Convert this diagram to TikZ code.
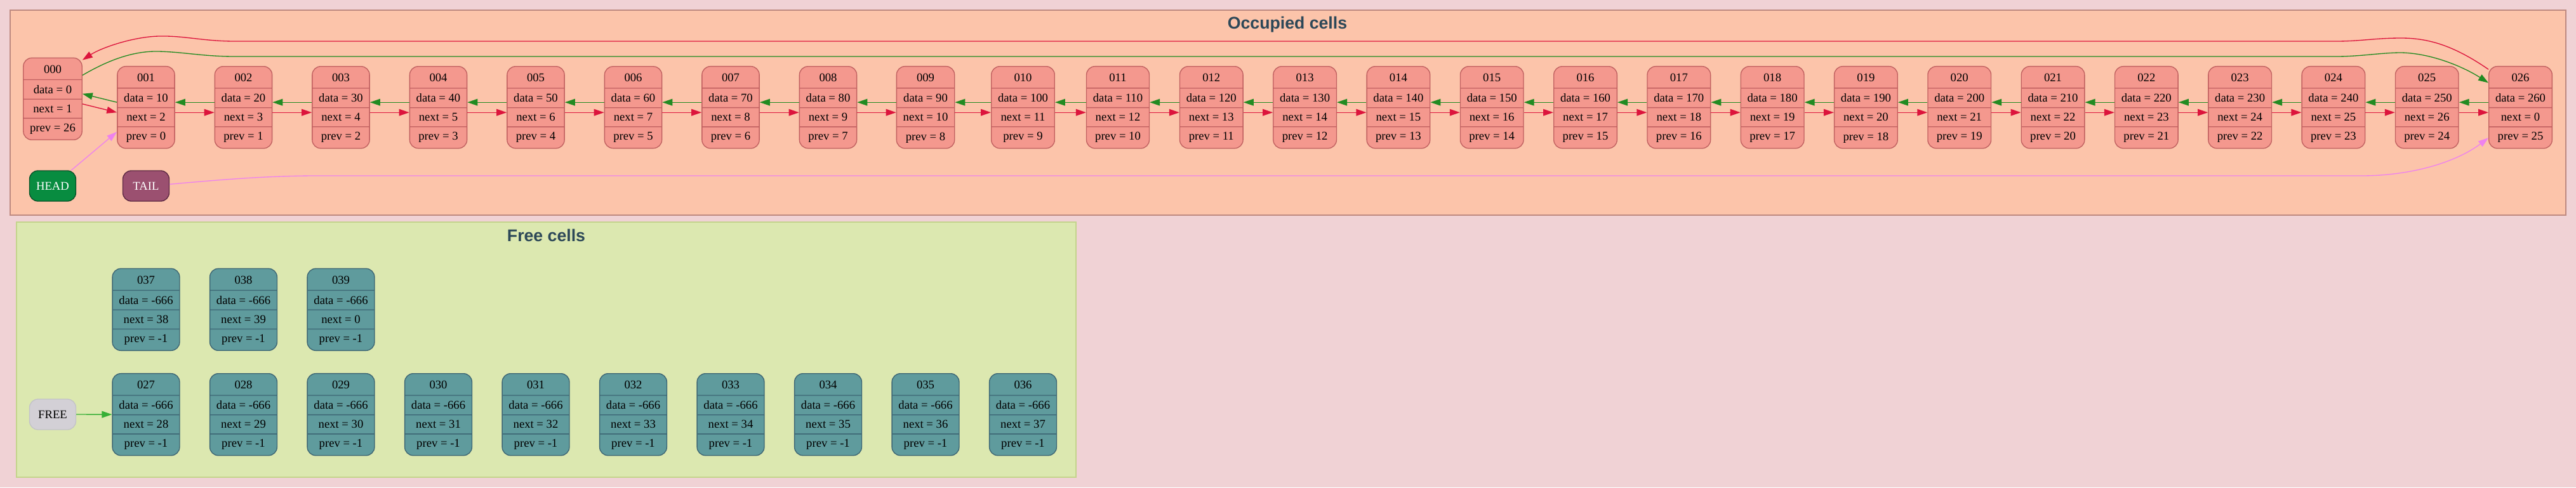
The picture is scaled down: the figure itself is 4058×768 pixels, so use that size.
\documentclass[tikz,border=0pt]{standalone}
\usepackage{fontspec}
\setmainfont{Liberation Serif}
\newfontfamily\clusterfont{Liberation Sans}
\usepackage{tikz}
\usetikzlibrary{arrows.meta, shapes.multipart}
\usepackage{xcolor}

\definecolor{bgpink}{RGB}{240,210,213}
\definecolor{occfill}{RGB}{252,196,170}
\definecolor{occline}{RGB}{190,138,128}
\definecolor{freefill}{RGB}{220,232,176}
\definecolor{freeline}{RGB}{196,212,140}
\definecolor{cellfill}{RGB}{244,152,142}
\definecolor{cellline}{RGB}{192,96,96}
\definecolor{freecellfill}{RGB}{95,155,157}
\definecolor{freecellline}{RGB}{60,100,115}
\definecolor{headfill}{RGB}{8,140,64}
\definecolor{headline}{RGB}{10,80,40}
\definecolor{tailfill}{RGB}{155,80,112}
\definecolor{tailline}{RGB}{90,40,65}
\definecolor{listfill}{RGB}{211,208,214}
\definecolor{listline}{RGB}{195,195,200}
\definecolor{titlecol}{RGB}{45,72,88}
\definecolor{nextred}{RGB}{220,20,60}
\definecolor{prevgreen}{RGB}{34,139,34}
\definecolor{headviolet}{RGB}{238,130,238}
\definecolor{freegreen}{RGB}{55,175,55}

\begin{document}
\begin{tikzpicture}[
    x=0.75pt, y=-0.75pt,
    occupied cell/.style={rectangle split, rectangle split parts=4, draw=cellline, fill=cellfill,
        line width=1pt, rounded corners=10pt, inner xsep=7.75pt, inner ysep=6.1pt,
        text height=11.5pt, text depth=1pt, font=\fontsize{14pt}{16pt}\selectfont},
    free cell/.style={occupied cell, draw=freecellline, fill=freecellfill},
    pointer/.style={draw, rounded corners=10pt, minimum width=54.75pt, minimum height=36pt,
        line width=1pt, font=\fontsize{14pt}{16pt}\selectfont},
    cluster title/.style={anchor=base, text=titlecol, font=\clusterfont\bfseries\fontsize{20pt}{24pt}\selectfont},
    link/.style={line width=1pt, -{Triangle[length=12pt, width=8pt]}},
    next link/.style={link, draw=nextred},
    prev link/.style={link, draw=prevgreen}
]
    \useasboundingbox (0,0) rectangle (4058,768);
    \fill[bgpink] (0,0) rectangle (4058,768);

    % clusters
    \draw[fill=occfill, draw=occline, line width=1.5pt] (15.7,15.7) rectangle (4041.7,339);
    \draw[fill=freefill, draw=freeline, line width=1.5pt] (26,350) rectangle (1695,751.7);
    \node[cluster title] (occtitle) at (2028,45.7) {Occupied cells};
    \node[cluster title] (freetitle) at (860.5,380) {Free cells};

    % occupied cells
    \node[occupied cell] (c000) at (83,155.8) {000\nodepart{two}data = 0\nodepart{three}next = 1\nodepart{four}prev = 26};
    \node[occupied cell] (c001) at (230,169.2) {001\nodepart{two}data = 10\nodepart{three}next = 2\nodepart{four}prev = 0};
    \node[occupied cell] (c002) at (383.5,169.2) {002\nodepart{two}data = 20\nodepart{three}next = 3\nodepart{four}prev = 1};
    \node[occupied cell] (c003) at (537,169.2) {003\nodepart{two}data = 30\nodepart{three}next = 4\nodepart{four}prev = 2};
    \node[occupied cell] (c004) at (690.5,169.2) {004\nodepart{two}data = 40\nodepart{three}next = 5\nodepart{four}prev = 3};
    \node[occupied cell] (c005) at (844,169.2) {005\nodepart{two}data = 50\nodepart{three}next = 6\nodepart{four}prev = 4};
    \node[occupied cell] (c006) at (997.5,169.2) {006\nodepart{two}data = 60\nodepart{three}next = 7\nodepart{four}prev = 5};
    \node[occupied cell] (c007) at (1151,169.2) {007\nodepart{two}data = 70\nodepart{three}next = 8\nodepart{four}prev = 6};
    \node[occupied cell] (c008) at (1304.5,169.2) {008\nodepart{two}data = 80\nodepart{three}next = 9\nodepart{four}prev = 7};
    \node[occupied cell] (c009) at (1458,169.2) {009\nodepart{two}data = 90\nodepart{three}next = 10\nodepart{four}prev = 8};
    \node[occupied cell] (c010) at (1611.5,169.2) {010\nodepart{two}data = 100\nodepart{three}next = 11\nodepart{four}prev = 9};
    \node[occupied cell] (c011) at (1761,169.2) {011\nodepart{two}data = 110\nodepart{three}next = 12\nodepart{four}prev = 10};
    \node[occupied cell] (c012) at (1908.3,169.2) {012\nodepart{two}data = 120\nodepart{three}next = 13\nodepart{four}prev = 11};
    \node[occupied cell] (c013) at (2055.6,169.2) {013\nodepart{two}data = 130\nodepart{three}next = 14\nodepart{four}prev = 12};
    \node[occupied cell] (c014) at (2202.9,169.2) {014\nodepart{two}data = 140\nodepart{three}next = 15\nodepart{four}prev = 13};
    \node[occupied cell] (c015) at (2350.2,169.2) {015\nodepart{two}data = 150\nodepart{three}next = 16\nodepart{four}prev = 14};
    \node[occupied cell] (c016) at (2497.5,169.2) {016\nodepart{two}data = 160\nodepart{three}next = 17\nodepart{four}prev = 15};
    \node[occupied cell] (c017) at (2644.8,169.2) {017\nodepart{two}data = 170\nodepart{three}next = 18\nodepart{four}prev = 16};
    \node[occupied cell] (c018) at (2792.1,169.2) {018\nodepart{two}data = 180\nodepart{three}next = 19\nodepart{four}prev = 17};
    \node[occupied cell] (c019) at (2939.4,169.2) {019\nodepart{two}data = 190\nodepart{three}next = 20\nodepart{four}prev = 18};
    \node[occupied cell] (c020) at (3086.7,169.2) {020\nodepart{two}data = 200\nodepart{three}next = 21\nodepart{four}prev = 19};
    \node[occupied cell] (c021) at (3234,169.2) {021\nodepart{two}data = 210\nodepart{three}next = 22\nodepart{four}prev = 20};
    \node[occupied cell] (c022) at (3381.3,169.2) {022\nodepart{two}data = 220\nodepart{three}next = 23\nodepart{four}prev = 21};
    \node[occupied cell] (c023) at (3528.6,169.2) {023\nodepart{two}data = 230\nodepart{three}next = 24\nodepart{four}prev = 22};
    \node[occupied cell] (c024) at (3675.9,169.2) {024\nodepart{two}data = 240\nodepart{three}next = 25\nodepart{four}prev = 23};
    \node[occupied cell] (c025) at (3823.2,169.2) {025\nodepart{two}data = 250\nodepart{three}next = 26\nodepart{four}prev = 24};
    \node[occupied cell] (c026) at (3970.5,169.2) {026\nodepart{two}data = 260\nodepart{three}next = 0\nodepart{four}prev = 25};

    \node[pointer, draw=headline, fill=headfill, text=white] (head) at (83,293) {HEAD};
    \node[pointer, draw=tailline, fill=tailfill, text=white] (tail) at (230,293) {TAIL};

    % free cells
    \node[free cell] (c037) at (230,487.8) {037\nodepart{two}data = -666\nodepart{three}next = 38\nodepart{four}prev = -1};
    \node[free cell] (c038) at (383.5,487.8) {038\nodepart{two}data = -666\nodepart{three}next = 39\nodepart{four}prev = -1};
    \node[free cell] (c039) at (537,487.8) {039\nodepart{two}data = -666\nodepart{three}next = 0\nodepart{four}prev = -1};
    \node[free cell] (c027) at (230,653.2) {027\nodepart{two}data = -666\nodepart{three}next = 28\nodepart{four}prev = -1};
    \node[free cell] (c028) at (383.5,653.2) {028\nodepart{two}data = -666\nodepart{three}next = 29\nodepart{four}prev = -1};
    \node[free cell] (c029) at (537,653.2) {029\nodepart{two}data = -666\nodepart{three}next = 30\nodepart{four}prev = -1};
    \node[free cell] (c030) at (690.5,653.2) {030\nodepart{two}data = -666\nodepart{three}next = 31\nodepart{four}prev = -1};
    \node[free cell] (c031) at (844,653.2) {031\nodepart{two}data = -666\nodepart{three}next = 32\nodepart{four}prev = -1};
    \node[free cell] (c032) at (997.5,653.2) {032\nodepart{two}data = -666\nodepart{three}next = 33\nodepart{four}prev = -1};
    \node[free cell] (c033) at (1151,653.2) {033\nodepart{two}data = -666\nodepart{three}next = 34\nodepart{four}prev = -1};
    \node[free cell] (c034) at (1304.5,653.2) {034\nodepart{two}data = -666\nodepart{three}next = 35\nodepart{four}prev = -1};
    \node[free cell] (c035) at (1458,653.2) {035\nodepart{two}data = -666\nodepart{three}next = 36\nodepart{four}prev = -1};
    \node[free cell] (c036) at (1611.5,653.2) {036\nodepart{two}data = -666\nodepart{three}next = 37\nodepart{four}prev = -1};

    \node[pointer, draw=listline, fill=listfill] (free) at (83,653) {FREE};

    % next / prev links
    \draw[next link] ([yshift=-6pt]c000.east) -- ([yshift=-6pt]c001.west);
    \draw[prev link] ([yshift=6pt]c001.west) -- ([yshift=6pt]c000.east);
    \draw[next link] ([yshift=-6pt]c001.east) -- ([yshift=-6pt]c002.west);
    \draw[prev link] ([yshift=6pt]c002.west) -- ([yshift=6pt]c001.east);
    \draw[next link] ([yshift=-6pt]c002.east) -- ([yshift=-6pt]c003.west);
    \draw[prev link] ([yshift=6pt]c003.west) -- ([yshift=6pt]c002.east);
    \draw[next link] ([yshift=-6pt]c003.east) -- ([yshift=-6pt]c004.west);
    \draw[prev link] ([yshift=6pt]c004.west) -- ([yshift=6pt]c003.east);
    \draw[next link] ([yshift=-6pt]c004.east) -- ([yshift=-6pt]c005.west);
    \draw[prev link] ([yshift=6pt]c005.west) -- ([yshift=6pt]c004.east);
    \draw[next link] ([yshift=-6pt]c005.east) -- ([yshift=-6pt]c006.west);
    \draw[prev link] ([yshift=6pt]c006.west) -- ([yshift=6pt]c005.east);
    \draw[next link] ([yshift=-6pt]c006.east) -- ([yshift=-6pt]c007.west);
    \draw[prev link] ([yshift=6pt]c007.west) -- ([yshift=6pt]c006.east);
    \draw[next link] ([yshift=-6pt]c007.east) -- ([yshift=-6pt]c008.west);
    \draw[prev link] ([yshift=6pt]c008.west) -- ([yshift=6pt]c007.east);
    \draw[next link] ([yshift=-6pt]c008.east) -- ([yshift=-6pt]c009.west);
    \draw[prev link] ([yshift=6pt]c009.west) -- ([yshift=6pt]c008.east);
    \draw[next link] ([yshift=-6pt]c009.east) -- ([yshift=-6pt]c010.west);
    \draw[prev link] ([yshift=6pt]c010.west) -- ([yshift=6pt]c009.east);
    \draw[next link] ([yshift=-6pt]c010.east) -- ([yshift=-6pt]c011.west);
    \draw[prev link] ([yshift=6pt]c011.west) -- ([yshift=6pt]c010.east);
    \draw[next link] ([yshift=-6pt]c011.east) -- ([yshift=-6pt]c012.west);
    \draw[prev link] ([yshift=6pt]c012.west) -- ([yshift=6pt]c011.east);
    \draw[next link] ([yshift=-6pt]c012.east) -- ([yshift=-6pt]c013.west);
    \draw[prev link] ([yshift=6pt]c013.west) -- ([yshift=6pt]c012.east);
    \draw[next link] ([yshift=-6pt]c013.east) -- ([yshift=-6pt]c014.west);
    \draw[prev link] ([yshift=6pt]c014.west) -- ([yshift=6pt]c013.east);
    \draw[next link] ([yshift=-6pt]c014.east) -- ([yshift=-6pt]c015.west);
    \draw[prev link] ([yshift=6pt]c015.west) -- ([yshift=6pt]c014.east);
    \draw[next link] ([yshift=-6pt]c015.east) -- ([yshift=-6pt]c016.west);
    \draw[prev link] ([yshift=6pt]c016.west) -- ([yshift=6pt]c015.east);
    \draw[next link] ([yshift=-6pt]c016.east) -- ([yshift=-6pt]c017.west);
    \draw[prev link] ([yshift=6pt]c017.west) -- ([yshift=6pt]c016.east);
    \draw[next link] ([yshift=-6pt]c017.east) -- ([yshift=-6pt]c018.west);
    \draw[prev link] ([yshift=6pt]c018.west) -- ([yshift=6pt]c017.east);
    \draw[next link] ([yshift=-6pt]c018.east) -- ([yshift=-6pt]c019.west);
    \draw[prev link] ([yshift=6pt]c019.west) -- ([yshift=6pt]c018.east);
    \draw[next link] ([yshift=-6pt]c019.east) -- ([yshift=-6pt]c020.west);
    \draw[prev link] ([yshift=6pt]c020.west) -- ([yshift=6pt]c019.east);
    \draw[next link] ([yshift=-6pt]c020.east) -- ([yshift=-6pt]c021.west);
    \draw[prev link] ([yshift=6pt]c021.west) -- ([yshift=6pt]c020.east);
    \draw[next link] ([yshift=-6pt]c021.east) -- ([yshift=-6pt]c022.west);
    \draw[prev link] ([yshift=6pt]c022.west) -- ([yshift=6pt]c021.east);
    \draw[next link] ([yshift=-6pt]c022.east) -- ([yshift=-6pt]c023.west);
    \draw[prev link] ([yshift=6pt]c023.west) -- ([yshift=6pt]c022.east);
    \draw[next link] ([yshift=-6pt]c023.east) -- ([yshift=-6pt]c024.west);
    \draw[prev link] ([yshift=6pt]c024.west) -- ([yshift=6pt]c023.east);
    \draw[next link] ([yshift=-6pt]c024.east) -- ([yshift=-6pt]c025.west);
    \draw[prev link] ([yshift=6pt]c025.west) -- ([yshift=6pt]c024.east);
    \draw[next link] ([yshift=-6pt]c025.east) -- ([yshift=-6pt]c026.west);
    \draw[prev link] ([yshift=6pt]c026.west) -- ([yshift=6pt]c025.east);

    % wrap-around links
    \draw[next link] ([yshift=-4pt]c026.north west) .. controls (3870,75) and (3830,60) .. (3783,60)
        .. controls (3740,60) and (3720,65) .. (3680,65) -- (370,65)
        .. controls (320,65) and (290,56) .. (250,57)
        .. controls (210,58) and (160,75) .. ([yshift=-3pt]c000.north east);
    \draw[prev link] ([yshift=-21pt]c000.north east) .. controls (170,95) and (210,80) .. (250,81)
        .. controls (290,82) and (320,89) .. (370,89) -- (3680,89)
        .. controls (3720,89) and (3750,83) .. (3783,83)
        .. controls (3830,84) and (3880,105) .. ([yshift=29pt]c026.west);

    % list heads
    \draw[link, draw=headviolet] (head) -- (c001);
    \draw[link, draw=headviolet] ([yshift=2pt]tail.east) .. controls (350,283) and (420,277) .. (500,277)
        -- (3720,277) .. controls (3800,277) and (3870,255) .. ([yshift=-36pt]c026.west);
    \draw[link, draw=freegreen] (free) -- (c027);
\end{tikzpicture}
\end{document}
